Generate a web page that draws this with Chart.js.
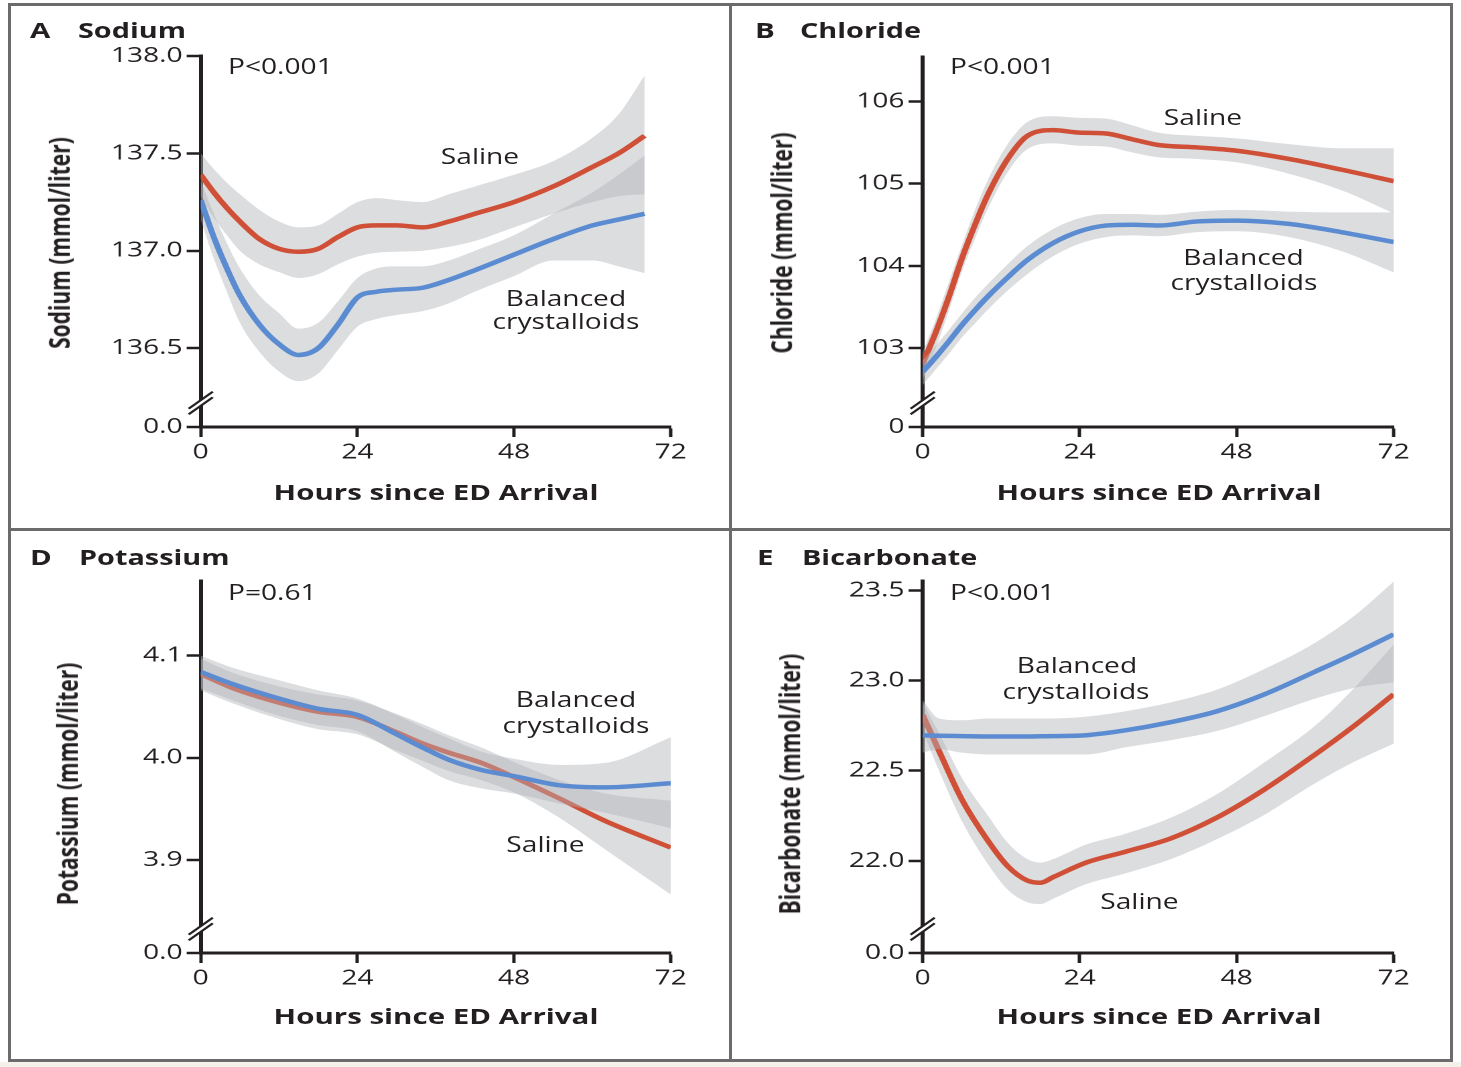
<!DOCTYPE html>
<html>
<head>
<meta charset="utf-8">
<title>Electrolytes over 72 hours</title>
<script src="https://cdn.jsdelivr.net/npm/chart.js@4.4.1/dist/chart.umd.min.js"></script>
<style>
  html, body { margin: 0; padding: 0; background: #fff; }
  body { position: relative; width: 1461px; height: 1067px; overflow: hidden; font-family: "Open Sans", sans-serif; color: #231f20; }
  #frame { position: absolute; left: 8px; top: 3px; width: 1445px; height: 1059px; box-sizing: border-box; border: 3px solid #6b6b6b; }
  .vline { position: absolute; left: 729px; top: 3px; width: 3px; height: 1059px; background: #6b6b6b; }
  .hline { position: absolute; left: 8px; top: 528px; width: 1445px; height: 3px; background: #6b6b6b; }
  .strip { position: absolute; left: 0; top: 1062px; width: 1461px; height: 5px; background: #f3f1ea; }
  #fig { position: absolute; left: 0; top: 0; height: 1067px; transform-origin: 0 0; }
  #fig canvas { position: absolute; }
  .t { position: absolute; white-space: nowrap; line-height: 1; }
</style>
</head>
<body>
<div id="frame"></div>
<div class="vline"></div>
<div class="hline"></div>
<div class="strip"></div>
<div id="fig"></div>
<script>
// values (hours since ED arrival)
const hourTicks = [0, 24, 48, 72];

const sodiumTicks = [136.5, 137.0, 137.5, 138.0];
const sodiumHours = [0, 2, 4, 6, 9, 12, 15, 18, 21, 24, 27, 30, 34, 38, 42, 48, 54, 60, 64, 68];
const sodiumSaline = [137.39, 137.30, 137.22, 137.15, 137.06, 137.01, 136.995, 137.01, 137.07, 137.12, 137.13, 137.13, 137.12, 137.15, 137.19, 137.25, 137.33, 137.43, 137.50, 137.59];
const sodiumSalineHigh = [137.50, 137.42, 137.35, 137.29, 137.21, 137.15, 137.12, 137.13, 137.19, 137.25, 137.27, 137.26, 137.25, 137.29, 137.33, 137.39, 137.46, 137.58, 137.70, 137.90];
const sodiumSalineLow = [137.28, 137.17, 137.08, 137.00, 136.93, 136.89, 136.86, 136.88, 136.93, 136.97, 136.99, 136.995, 137.00, 137.02, 137.05, 137.12, 137.19, 137.25, 137.28, 137.29];
const sodiumBalanced = [137.26, 137.07, 136.91, 136.77, 136.62, 136.52, 136.465, 136.50, 136.62, 136.76, 136.79, 136.80, 136.81, 136.85, 136.90, 136.98, 137.06, 137.13, 137.16, 137.19];
const sodiumBalancedHigh = [137.36, 137.19, 137.04, 136.91, 136.77, 136.68, 136.60, 136.63, 136.74, 136.86, 136.91, 136.92, 136.92, 136.95, 137.00, 137.08, 137.19, 137.30, 137.39, 137.49];
const sodiumBalancedLow = [137.16, 136.96, 136.79, 136.63, 136.48, 136.38, 136.33, 136.37, 136.49, 136.61, 136.65, 136.67, 136.69, 136.73, 136.79, 136.87, 136.95, 136.95, 136.92, 136.885];

const chlorideTicks = [103, 104, 105, 106];
const chlorideHours = [0, 2, 4, 6, 8, 10, 13, 16, 20, 24, 28, 32, 36, 42, 48, 56, 64, 72];
const chlorideSaline = [102.81, 103.19, 103.62, 104.09, 104.50, 104.87, 105.30, 105.58, 105.65, 105.62, 105.61, 105.54, 105.47, 105.44, 105.40, 105.30, 105.17, 105.03];
const chlorideSalineHigh = [102.95, 103.35, 103.80, 104.25, 104.68, 105.05, 105.48, 105.75, 105.82, 105.80, 105.79, 105.71, 105.62, 105.58, 105.55, 105.48, 105.43, 105.43];
const chlorideSalineLow = [102.62, 103.00, 103.45, 103.93, 104.33, 104.70, 105.14, 105.42, 105.49, 105.46, 105.45, 105.38, 105.32, 105.30, 105.26, 105.12, 104.92, 104.64];
const chlorideBalanced = [102.71, 102.89, 103.08, 103.28, 103.46, 103.63, 103.86, 104.07, 104.28, 104.42, 104.49, 104.50, 104.49, 104.54, 104.55, 104.51, 104.41, 104.29];
const chlorideBalancedHigh = [102.85, 103.03, 103.22, 103.42, 103.61, 103.78, 104.02, 104.24, 104.45, 104.58, 104.63, 104.63, 104.62, 104.66, 104.68, 104.66, 104.65, 104.65];
const chlorideBalancedLow = [102.55, 102.74, 102.93, 103.13, 103.30, 103.47, 103.70, 103.90, 104.12, 104.27, 104.35, 104.37, 104.36, 104.41, 104.42, 104.35, 104.18, 103.92];

const potassiumTicks = [3.9, 4.0, 4.1];
const potassiumHours = [0, 5, 12, 18, 24, 30, 34, 38, 43, 48, 55, 62, 72];
const potassiumSaline = [4.082, 4.068, 4.054, 4.045, 4.040, 4.025, 4.014, 4.005, 3.995, 3.981, 3.960, 3.938, 3.912];
const potassiumSalineHigh = [4.097, 4.083, 4.070, 4.062, 4.056, 4.043, 4.033, 4.022, 4.010, 3.996, 3.978, 3.965, 3.958];
const potassiumSalineLow = [4.066, 4.053, 4.038, 4.028, 4.023, 4.007, 3.997, 3.987, 3.978, 3.966, 3.941, 3.910, 3.866];
const potassiumBalanced = [4.084, 4.072, 4.058, 4.048, 4.042, 4.023, 4.010, 3.998, 3.988, 3.982, 3.973, 3.971, 3.975];
const potassiumBalancedHigh = [4.100, 4.088, 4.076, 4.066, 4.058, 4.042, 4.030, 4.019, 4.006, 3.999, 3.993, 3.995, 4.020];
const potassiumBalancedLow = [4.068, 4.056, 4.041, 4.032, 4.026, 4.005, 3.991, 3.978, 3.970, 3.965, 3.955, 3.946, 3.931];

const bicarbonateTicks = [22.0, 22.5, 23.0, 23.5];
const bicarbonateHours = [0, 2.5, 6, 10, 13, 16, 18, 20, 25, 31, 38, 45, 52, 60, 66, 72];
const bicarbonateSaline = [22.81, 22.61, 22.34, 22.11, 21.97, 21.89, 21.878, 21.91, 21.99, 22.05, 22.125, 22.24, 22.39, 22.59, 22.75, 22.924];
const bicarbonateSalineHigh = [22.88, 22.71, 22.46, 22.25, 22.10, 22.01, 21.99, 22.01, 22.09, 22.15, 22.24, 22.37, 22.54, 22.75, 22.96, 23.20];
const bicarbonateSalineLow = [22.72, 22.50, 22.22, 21.98, 21.84, 21.77, 21.76, 21.79, 21.87, 21.93, 22.01, 22.12, 22.25, 22.43, 22.55, 22.65];
const bicarbonateBalanced = [22.696, 22.694, 22.692, 22.690, 22.690, 22.690, 22.691, 22.692, 22.697, 22.724, 22.77, 22.83, 22.92, 23.05, 23.15, 23.257];
const bicarbonateBalancedHigh = [22.89, 22.79, 22.78, 22.79, 22.79, 22.79, 22.79, 22.79, 22.80, 22.83, 22.88, 22.95, 23.06, 23.21, 23.36, 23.55];
const bicarbonateBalancedLow = [22.60, 22.62, 22.60, 22.59, 22.59, 22.59, 22.59, 22.59, 22.59, 22.63, 22.67, 22.72, 22.80, 22.90, 22.96, 22.99];

const ink = '#231f20';
const salineColor = '#cf4f37';
const balancedColor = '#5b8bd0';
const bandColor = 'rgba(177,179,183,0.45)';

// the printed figure is stretched sideways, so lay out narrow and scale in x
const S = 1.34;
const fig = document.getElementById('fig');
fig.style.width = (1461 / S) + 'px';
fig.style.transform = 'scaleX(' + S + ')';

// the "//" break on the y axis just above the zero tick
const axisBreak = {
    id: 'axisBreak',
    afterDraw(chart) {
        const { ctx, chartArea } = chart;
        const x = chartArea.left, y = chartArea.bottom - 24;
        const dx = 9, dy = 8.5, gap = 2.8;
        ctx.save();
        ctx.fillStyle = '#fff';
        ctx.beginPath();
        ctx.moveTo(x - dx, y + dy + gap);
        ctx.lineTo(x + dx, y - dy + gap);
        ctx.lineTo(x + dx, y - dy - gap);
        ctx.lineTo(x - dx, y + dy - gap);
        ctx.closePath();
        ctx.fill();
        ctx.strokeStyle = ink;
        ctx.lineWidth = 2;
        [gap, -gap].forEach(o => {
            ctx.beginPath();
            ctx.moveTo(x - dx, y + dy + o);
            ctx.lineTo(x + dx, y - dy + o);
            ctx.stroke();
        });
        ctx.restore();
    }
};

function makeChart(p) {
    const [bx, by, bw, bh] = p.box;
    const [al, ar, at, ab] = p.area;
    const left = bx / S;
    const width = Math.round(bw / S);
    const canvas = document.createElement('canvas');
    canvas.width = width;
    canvas.height = bh;
    canvas.style.left = left + 'px';
    canvas.style.top = by + 'px';
    canvas.style.width = width + 'px';
    canvas.style.height = bh + 'px';
    fig.appendChild(canvas);

    const yWidth = al / S - left;
    const padRight = width - (ar / S - left);
    const pts = arr => p.hours.map((h, i) => ({ x: h, y: arr[i] }));
    const line = (arr, color) => ({
        data: pts(arr), borderColor: color, borderWidth: 4.5, pointRadius: 0,
        fill: false, cubicInterpolationMode: 'monotone'
    });
    const edge = (arr, fill) => ({
        data: pts(arr), borderColor: 'transparent', borderWidth: 0, backgroundColor: bandColor,
        pointRadius: 0, fill: fill, cubicInterpolationMode: 'monotone'
    });
    const tickFont = { family: 'Open Sans', size: 21 };

    // drawn from last to first: saline band, saline line, balanced band, balanced line
    new Chart(canvas, {
        type: 'line',
        data: {
            datasets: [
                line(p.balanced, balancedColor),
                edge(p.balancedLow, false),
                edge(p.balancedHigh, '-1'),
                line(p.saline, salineColor),
                edge(p.salineLow, false),
                edge(p.salineHigh, '-1')
            ]
        },
        options: {
            responsive: false,
            animation: false,
            devicePixelRatio: 2,
            events: [],
            layout: { padding: { left: 0, right: padRight, top: at - by, bottom: 0 } },
            plugins: { legend: { display: false }, tooltip: { enabled: false } },
            scales: {
                x: {
                    type: 'linear', min: 0, max: 72, z: 1,
                    afterBuildTicks: s => { s.ticks = hourTicks.map(v => ({ value: v })); },
                    afterFit: s => { s.height = by + bh - ab; },
                    ticks: { color: ink, font: tickFont, padding: 3, maxRotation: 0, autoSkip: false },
                    grid: { drawOnChartArea: false, tickLength: 10, tickWidth: 2.5, tickColor: ink },
                    border: { color: ink, width: 3 }
                },
                y: {
                    type: 'linear', min: p.min, max: p.max, z: 1,
                    afterBuildTicks: s => { s.ticks = [p.min].concat(p.ticks).map(v => ({ value: v })); },
                    afterFit: s => { s.width = yWidth; },
                    ticks: {
                        color: ink, font: tickFont, padding: 3, autoSkip: false,
                        callback: v => v === p.min ? p.zero : v.toFixed(p.digits)
                    },
                    grid: { drawOnChartArea: false, tickLength: 10.5, tickWidth: 2.5, tickColor: ink },
                    border: { color: ink, width: 3 }
                }
            }
        },
        plugins: [axisBreak]
    });
}

function addText(text, x, baseline, size, weight, align) {
    const el = document.createElement('div');
    el.className = 't';
    el.textContent = text;
    el.style.fontSize = size + 'px';
    el.style.fontWeight = weight;
    el.style.left = (x / S) + 'px';
    el.style.top = (baseline - 0.888 * size) + 'px';
    if (align === 'center') el.style.transform = 'translateX(-50%)';
    fig.appendChild(el);
}

function addYTitle(text, cx, cy) {
    const el = document.createElement('div');
    el.className = 't';
    el.textContent = text;
    el.style.fontSize = '21px';
    el.style.fontWeight = 700;
    el.style.left = (cx / S) + 'px';
    el.style.top = cy + 'px';
    el.style.transform = 'translate(-50%,-50%) rotate(-90deg)';
    fig.appendChild(el);
}

makeChart({
    box: [11, 6, 718, 522], area: [201, 671, 56, 427],
    min: 136.095, max: 138.0, ticks: sodiumTicks, zero: '0.0', digits: 1,
    hours: sodiumHours, saline: sodiumSaline, salineHigh: sodiumSalineHigh, salineLow: sodiumSalineLow,
    balanced: sodiumBalanced, balancedHigh: sodiumBalancedHigh, balancedLow: sodiumBalancedLow
});
makeChart({
    box: [732, 6, 717, 522], area: [923, 1394, 57, 427],
    min: 102.04, max: 106.54, ticks: chlorideTicks, zero: '0', digits: 0,
    hours: chlorideHours, saline: chlorideSaline, salineHigh: chlorideSalineHigh, salineLow: chlorideSalineLow,
    balanced: chlorideBalanced, balancedHigh: chlorideBalancedHigh, balancedLow: chlorideBalancedLow
});
makeChart({
    box: [11, 531, 718, 528], area: [201, 671, 581, 953],
    min: 3.8087, max: 4.1732, ticks: potassiumTicks, zero: '0.0', digits: 1,
    hours: potassiumHours, saline: potassiumSaline, salineHigh: potassiumSalineHigh, salineLow: potassiumSalineLow,
    balanced: potassiumBalanced, balancedHigh: potassiumBalancedHigh, balancedLow: potassiumBalancedLow
});
makeChart({
    box: [732, 531, 717, 528], area: [923, 1394, 581, 953],
    min: 21.488, max: 23.553, ticks: bicarbonateTicks, zero: '0.0', digits: 1,
    hours: bicarbonateHours, saline: bicarbonateSaline, salineHigh: bicarbonateSalineHigh, salineLow: bicarbonateSalineLow,
    balanced: bicarbonateBalanced, balancedHigh: bicarbonateBalancedHigh, balancedLow: bicarbonateBalancedLow
});

// panel titles
addText('A', 30, 38, 22, 700);
addText('Sodium', 78, 38, 21.5, 700);
addText('B', 755, 38, 22, 700);
addText('Chloride', 800, 38, 21.5, 700);
addText('D', 30, 565, 22, 700);
addText('Potassium', 79, 565, 21.5, 700);
addText('E', 757, 565, 22, 700);
addText('Bicarbonate', 802, 565, 21.5, 700);

// P values
addText('P<0.001', 228, 75, 21, 400);
addText('P<0.001', 950, 75, 21, 400);
addText('P=0.61', 228, 601, 21, 400);
addText('P<0.001', 950, 601, 21, 400);

// series labels
addText('Saline', 480, 164.5, 21, 400, 'center');
addText('Balanced', 566, 307, 21, 400, 'center');
addText('crystalloids', 566, 330, 21, 400, 'center');
addText('Saline', 1203, 126, 21, 400, 'center');
addText('Balanced', 1243.5, 265.5, 21, 400, 'center');
addText('crystalloids', 1244, 291, 21, 400, 'center');
addText('Balanced', 576, 708, 21, 400, 'center');
addText('crystalloids', 576, 734, 21, 400, 'center');
addText('Saline', 545.5, 853, 21, 400, 'center');
addText('Balanced', 1077, 674, 21, 400, 'center');
addText('crystalloids', 1076, 699.5, 21, 400, 'center');
addText('Saline', 1139.5, 909.5, 21, 400, 'center');

// axis titles
addText('Hours since ED Arrival', 436, 500, 22, 700, 'center');
addText('Hours since ED Arrival', 1159, 500, 22, 700, 'center');
addText('Hours since ED Arrival', 436, 1024, 22, 700, 'center');
addText('Hours since ED Arrival', 1159, 1024, 22, 700, 'center');
addYTitle('Sodium (mmol/liter)', 60, 242.6);
addYTitle('Chloride (mmol/liter)', 783, 242.6);
addYTitle('Potassium (mmol/liter)', 69, 783.5);
addYTitle('Bicarbonate (mmol/liter)', 791, 783.5);
</script>
</body>
</html>
